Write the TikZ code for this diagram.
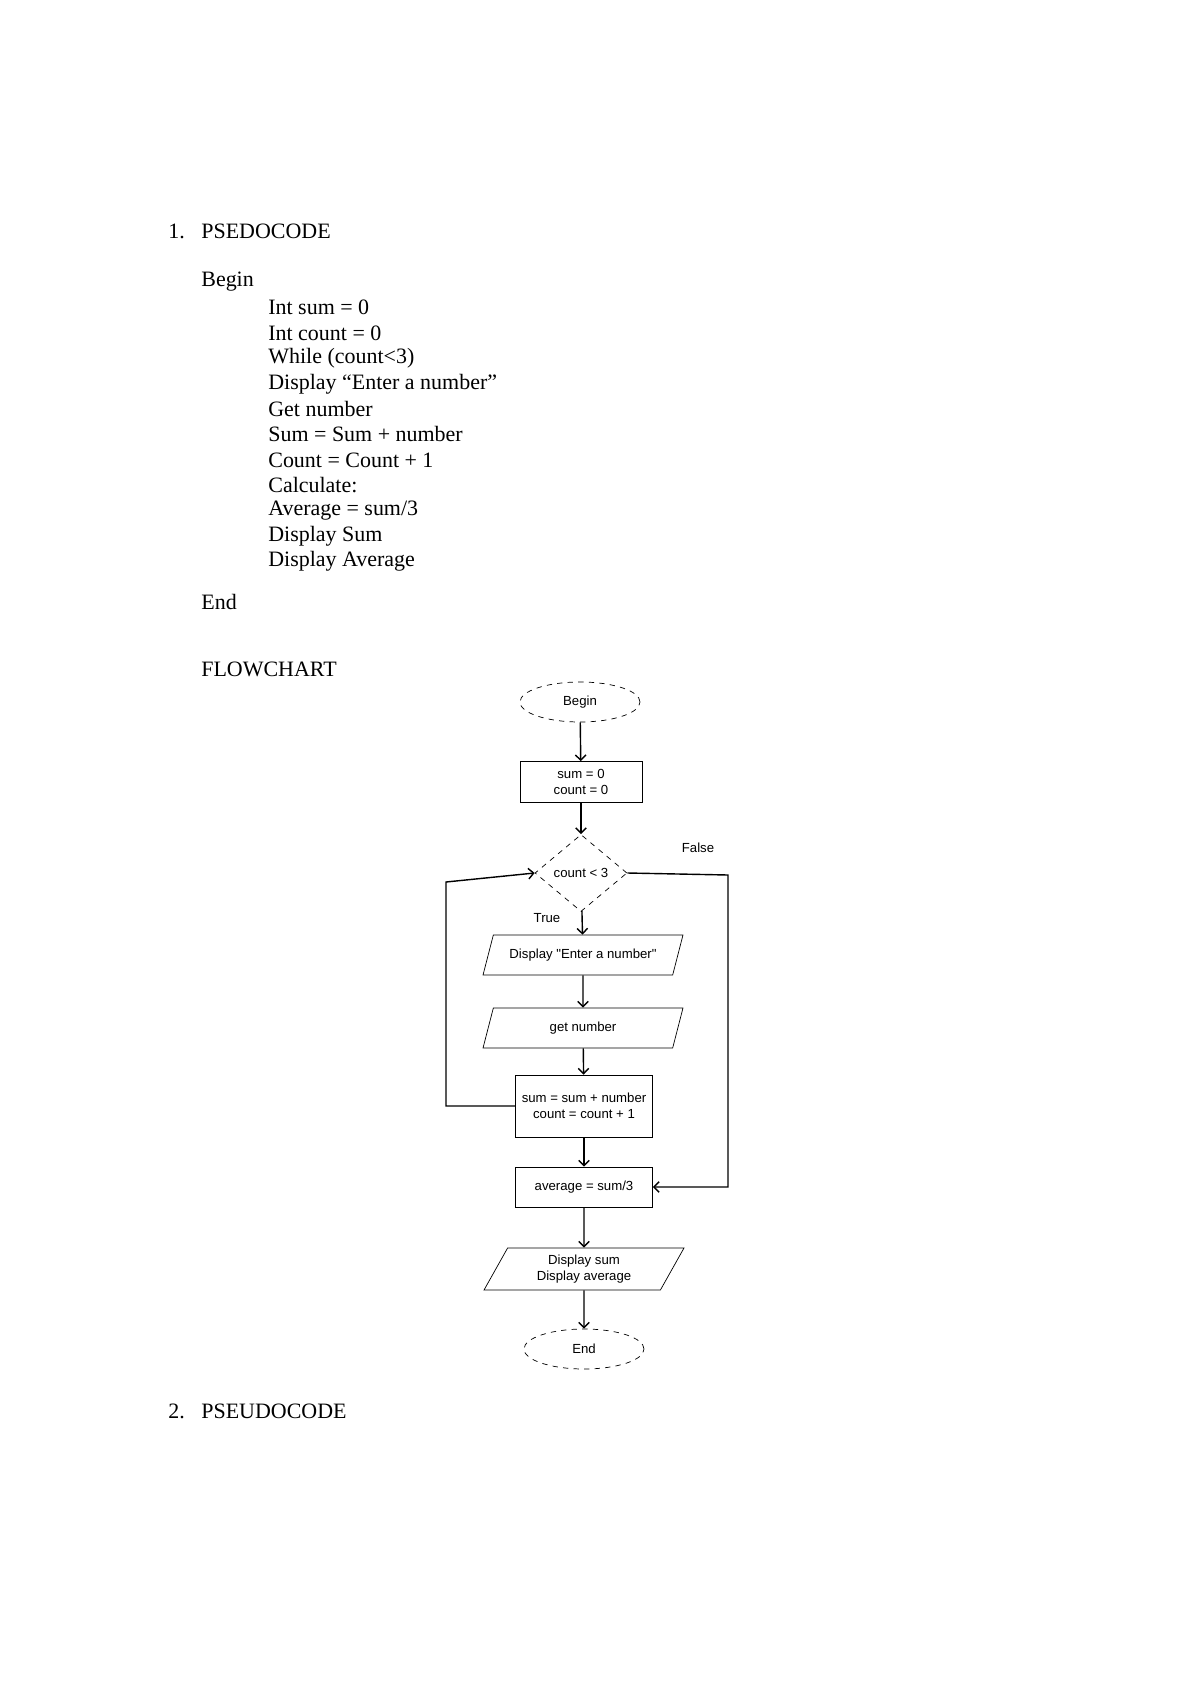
\documentclass[tikz,border=0pt]{standalone}
\usepackage{fontspec}
\setmainfont{Liberation Serif}
\newfontfamily\chartfont{Liberation Sans}
\usetikzlibrary{shapes.geometric,arrows.meta}
\begin{document}
\begin{tikzpicture}[x=0.02cm,y=-0.02cm,
    txt/.style={anchor=west,inner sep=0pt,font=\fontsize{12.5}{15}\selectfont},
    lbl/.style={inner sep=0pt,font=\chartfont\fontsize{7.5}{9}\selectfont,align=center},
    term/.style={ellipse,draw,dashed,minimum width=2.4cm,minimum height=0.8cm,lbl},
    proc/.style={rectangle,draw,minimum width=2.6cm,lbl},
    io/.style={trapezium,trapezium left angle=50,trapezium right angle=130,
        trapezium stretches body,draw,lbl,minimum width=4.0cm,minimum height=0.8cm},
    flow/.style={-{Straight Barb[length=3pt]},thick}]
    \useasboundingbox (0,0) rectangle (1200,1696);

    % Pseudocode text
    \node[txt] at (168,231) {1.};
    \node[txt] (h1) at (201,231) {PSEDOCODE};
    \node[txt] at (201,282) {Begin};
    \foreach \y/\t in {307/{Int sum = 0}, 333/{Int count = 0}, 358/{While (count<3)},
        384/{Display “Enter a number”}, 409/{Get number}, 434/{Sum = Sum + number},
        460/{Count = Count + 1}, 485/{Calculate:}, 511/{Average = sum/3},
        536/{Display Sum}, 561/{Display Average}}
        \node[txt] at (268,\y) {\t};
    \node[txt] at (201,602) {End};
    \node[txt] at (201,669) {FLOWCHART};
    \node[txt] at (168,1411) {2.};
    \node[txt] at (201,1411) {PSEUDOCODE};

    % Flowchart nodes
    \node[term] (begin) at (580,702) {Begin};
    \node[proc,minimum width=2.44cm,minimum height=0.82cm] (init) at (581,782) {sum = 0\\count = 0};
    \node[diamond,draw,dashed,lbl,minimum width=1.84cm,minimum height=1.54cm] (cond) at (581,873) {count < 3};
    \node[io] (disp) at (583,955) {Display "Enter a number"};
    \node[io] (get) at (583,1028) {get number};
    \node[proc,minimum width=2.74cm,minimum height=1.24cm] (upd) at (584,1106) {sum = sum + number\\count = count + 1};
    \node[proc,minimum width=2.74cm,minimum height=0.8cm] (avg) at (584,1187) {average = sum/3};
    \node[io,minimum height=0.84cm] (out) at (584,1269) {Display sum\\Display average};
    \node[term] (end) at (584,1349) {End};
    \node[lbl] at (547,918) {True};
    \node[lbl] at (698,848) {False};

    % Connectors
    \coordinate (loopA) at (446,1106);
    \coordinate (loopB) at (446,882);
    \coordinate (falseA) at (728,875);
    \coordinate (falseB) at (728,1187);
    \draw[flow] (begin) -- (init);
    \draw[flow] (init) -- (cond);
    \draw[flow] (cond) -- (disp);
    \draw[flow] (disp) -- (get);
    \draw[flow] (get) -- (upd);
    \draw[flow] (upd) -- (avg);
    \draw[flow] (avg) -- (out);
    \draw[flow] (out) -- (end);
    \draw[flow] (upd.west) -- (loopA) -- (loopB) -- (cond.west);
    \draw[flow] (cond.east) -- (falseA) -- (falseB) -- (avg.east);
\end{tikzpicture}
\end{document}
